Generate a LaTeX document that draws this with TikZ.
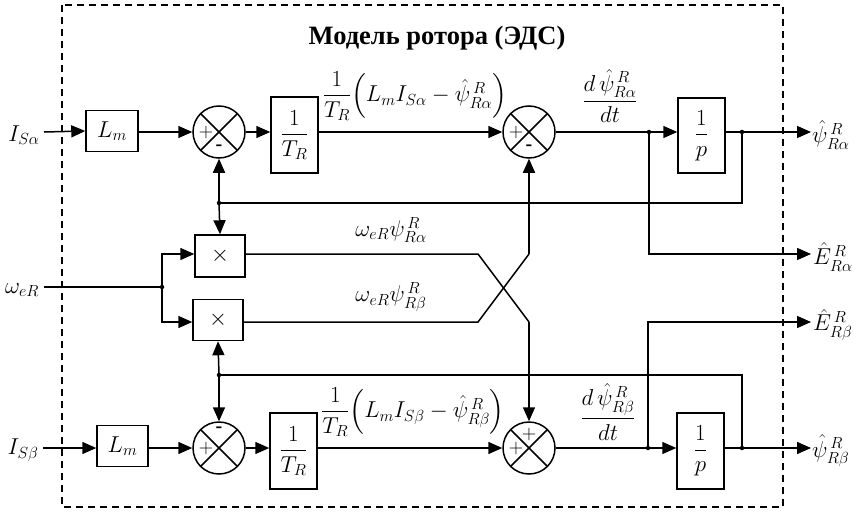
\RequirePackage{fix-cm}
\documentclass[tikz,border=0pt]{standalone}
\usepackage{amsmath}
\usepackage{fontspec}
\setmainfont{Liberation Serif}
\usetikzlibrary{arrows.meta,calc}
\tikzset{
  ln/.style={line width=1.5pt},
  arr/.style={ln,-{Triangle[length=14pt,width=12pt]}},
  blk/.style={draw,line width=1.5pt,inner sep=0pt,fill=white,font=\fontsize{23}{25}\selectfont},
  sumc/.style={draw,circle,line width=1.5pt,minimum size=52pt,inner sep=0pt},
  jdot/.style={circle,fill,inner sep=0pt,minimum size=4.5pt},
  lbl/.style={font=\fontsize{23}{25}\selectfont,inner sep=0pt},
  sgn/.style={font=\fontsize{20}{22}\selectfont,inner sep=0pt}
}
\newcommand{\xcross}[1]{%
  \draw[ln] ($(#1)+(-18.4,-18.4)$) -- ($(#1)+(18.4,18.4)$);
  \draw[ln] ($(#1)+(-18.4,18.4)$) -- ($(#1)+(18.4,-18.4)$);}
\begin{document}
\begin{tikzpicture}[x=1pt,y=-1pt]
\useasboundingbox (0,0) rectangle (861,511);
% frame
\draw[line width=1.3pt,dash pattern=on 7pt off 5pt] (62,5) rectangle (783,507);
\node[font=\fontsize{26.5}{28}\selectfont\bfseries,inner sep=0pt] (title) at (437,38) {Модель ротора (ЭДС)};

% ---------- top row ----------
\node[lbl] (isa) at (24,135) {$I_{S\alpha}$};
\coordinate (isaS) at (44,132);
\node[blk,minimum width=52pt,minimum height=41pt] (lm1) at (112,131) {$L_m$};
\node[sumc] (s1) at (219,132) {};
\xcross{s1}
\node[blk,minimum width=47pt,minimum height=76pt] (tr1) at (294.5,135) {$\dfrac{1}{T_R}$};
\node[sumc] (s2) at (529,132) {};
\xcross{s2}
\node[blk,minimum width=47pt,minimum height=75pt] (p1) at (701.5,135.5) {$\dfrac{1}{p}$};
\node[jdot] (d1) at (649,132) {};
\node[jdot] (d2) at (742,132) {};
\coordinate (o1) at (811,132);
\node[lbl,anchor=west] (psia) at (812,135) {$\hat{\psi}^{\,R}_{R\alpha}$};

\node[sgn] (s1p) at (206,132) {$+$};
\node[sgn,font=\fontsize{20}{22}\selectfont\bfseries] (s1m) at (219,148) {-};
\node[sgn] (s2p) at (516,132) {$+$};
\node[sgn,font=\fontsize{20}{22}\selectfont\bfseries] (s2m) at (529,148) {-};

\draw[arr] (isaS) -- (lm1.west);
\draw[arr] (lm1.east |- s1) -- (s1.west);
\draw[arr] (s1.east) -- (tr1.west |- s1);
\draw[arr] (tr1.east |- s2) -- (s2.west);
\draw[ln] (s2.east) -- (d1.center);
\draw[arr] (d1.center) -- (p1.west |- d1);
\draw[ln] (p1.east |- d2) -- (d2.center);
\draw[arr] (d2.center) -- (o1);

\node[lbl] (f1) at (415,96) {$\dfrac{1}{T_R}\Bigl(L_m I_{S\alpha}-\hat{\psi}^{\,R}_{R\alpha}\Bigr)$};
\node[lbl] (dpa) at (610,96) {$\dfrac{d\,\hat{\psi}^{\,R}_{R\alpha}}{dt}$};

% feedback top
\node[jdot] (d4) at (219,203) {};
\coordinate (fb1) at (742,203);
\draw[ln] (d2.center) -- (fb1) -- (d4.center);
\draw[arr] (d4.center) -- (s1.south);

% ---------- multipliers ----------
\node[blk,minimum width=50pt,minimum height=42pt] (m1) at (220,256) {$\times$};
\node[blk,minimum width=50pt,minimum height=41pt] (m2) at (218,320) {$\times$};
\draw[arr] (d4.center) -- (m1.north);

\node[lbl] (wer) at (22,290) {$\omega_{eR}$};
\coordinate (werS) at (44,287);
\node[jdot] (d5) at (162,287) {};
\draw[ln] (werS) -- (d5.center);
\draw[arr] (d5.center) |- (m1.west |- 0,254);
\draw[arr] (d5.center) |- (m2.west |- 0,322);

\node[lbl] (wpa) at (391,230) {$\omega_{eR}\psi^{\,R}_{R\alpha}$};
\node[lbl] (wpb) at (391,297) {$\omega_{eR}\psi^{\,R}_{R\beta}$};

\coordinate (c1) at (478,254);
\coordinate (c2) at (529,322);
\coordinate (c3) at (478,322);
\coordinate (c4) at (529,254);
\draw[ln] (m1.east |- c1) -- (c1) -- (c2);
\draw[ln] (m2.east |- c3) -- (c3) -- (c4);

% E outputs
\coordinate (ea) at (649,254);
\coordinate (oea) at (811,254);
\draw[arr] (d1.center) -- (ea) -- (oea);
\node[lbl,anchor=west] (Ea) at (813,257) {$\hat{E}^{\,R}_{R\alpha}$};

% ---------- bottom row ----------
\node[lbl] (isb) at (23,450) {$I_{S\beta}$};
\coordinate (isbS) at (43,448);
\node[blk,minimum width=51pt,minimum height=41pt] (lm2) at (122.5,446) {$L_m$};
\node[sumc] (s3) at (219,448) {};
\xcross{s3}
\node[blk,minimum width=47pt,minimum height=76pt] (tr2) at (293.5,451) {$\dfrac{1}{T_R}$};
\node[sumc] (s4) at (529,448) {};
\xcross{s4}
\node[blk,minimum width=47pt,minimum height=76pt] (p2) at (700.5,451) {$\dfrac{1}{p}$};
\node[jdot] (d6) at (648,448) {};
\node[jdot] (d7) at (742,448) {};
\coordinate (o2) at (811,448);
\node[lbl,anchor=west] (psib) at (812,451) {$\hat{\psi}^{\,R}_{R\beta}$};

\node[sgn] (s3p) at (206,448) {$+$};
\node[sgn,font=\fontsize{20}{22}\selectfont\bfseries] (s3m) at (219,430) {-};
\node[sgn] (s4p) at (516,448) {$+$};
\node[sgn] (s4t) at (529,434) {$+$};

\draw[arr] (isbS) -- (lm2.west |- isbS);
\draw[arr] (lm2.east |- s3) -- (s3.west);
\draw[arr] (s3.east) -- (tr2.west |- s3);
\draw[arr] (tr2.east |- s4) -- (s4.west);
\draw[ln] (s4.east) -- (d6.center);
\draw[arr] (d6.center) -- (p2.west |- d6);
\draw[ln] (p2.east |- d7) -- (d7.center);
\draw[arr] (d7.center) -- (o2);

\node[lbl] (f2) at (413,412) {$\dfrac{1}{T_R}\Bigl(L_m I_{S\beta}-\hat{\psi}^{\,R}_{R\beta}\Bigr)$};
\node[lbl] (dpb) at (608,412) {$\dfrac{d\,\hat{\psi}^{\,R}_{R\beta}}{dt}$};

% feedback bottom
\node[jdot] (d8) at (219,375) {};
\coordinate (fb2) at (742,375);
\draw[ln] (d7.center) -- (fb2) -- (d8.center);
\draw[arr] (d8.center) -- (m2.south);
\draw[arr] (d8.center) -- (s3.north);

% crossing verticals
\draw[arr] (c4) -- (s2.south);
\draw[arr] (c2) -- (s4.north);

% E beta
\coordinate (eb) at (648,322);
\coordinate (oeb) at (811,322);
\draw[arr] (d6.center) -- (eb) -- (oeb);
\node[lbl,anchor=west] (Eb) at (813,325) {$\hat{E}^{\,R}_{R\beta}$};
\end{tikzpicture}
\end{document}
